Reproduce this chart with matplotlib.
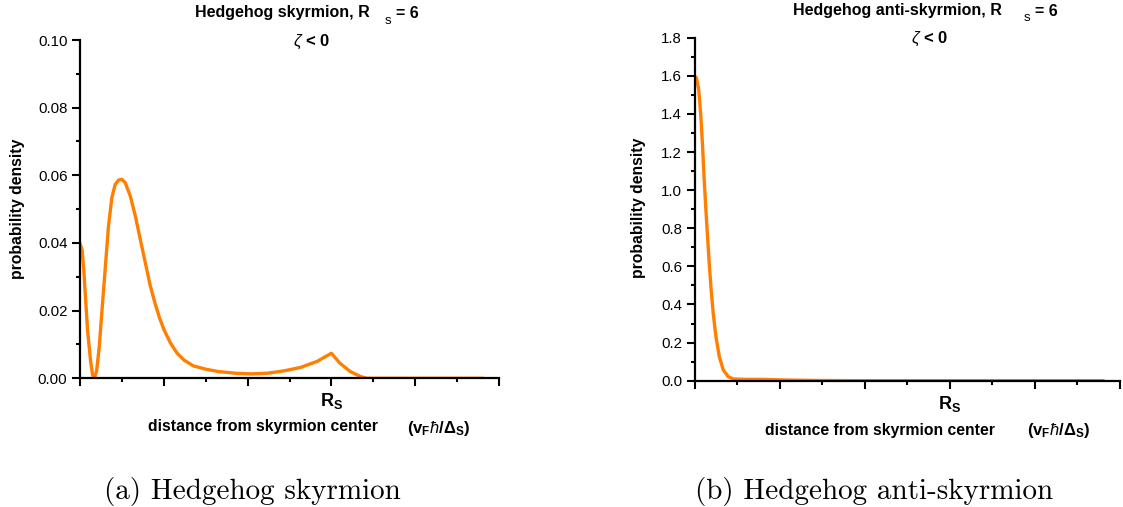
import matplotlib
matplotlib.use("Agg")
import matplotlib.pyplot as plt
from matplotlib.ticker import MultipleLocator, FixedLocator, FixedFormatter

plt.rcParams['font.family'] = ['Liberation Sans', 'DejaVu Sans']
plt.rcParams['mathtext.fontset'] = 'custom'
plt.rcParams['mathtext.rm'] = 'Liberation Sans'
plt.rcParams['mathtext.bf'] = 'Liberation Sans:bold'
plt.rcParams['mathtext.it'] = 'Liberation Sans:italic'

# ---------------- data ----------------
sk_x = [0, 0.05, 0.09, 0.13, 0.18, 0.25, 0.30, 0.35, 0.40, 0.46, 0.52, 0.60, 0.68,
        0.76, 0.84, 0.92, 1.0, 1.08, 1.2, 1.32, 1.44, 1.56, 1.67, 1.79, 1.9, 2.0,
        2.16, 2.32, 2.48, 2.7, 3.0, 3.3, 3.7, 4.07, 4.47, 4.87, 5.26, 5.66, 6.0,
        6.2, 6.45, 6.7, 6.85, 7.5, 8.5, 9.6]
sk_y = [0.0398, 0.038, 0.032, 0.0242, 0.0143, 0.0054, 0.001, 0.0, 0.0025, 0.0094,
        0.0193, 0.0321, 0.045, 0.0534, 0.0573, 0.0586, 0.0588, 0.0578, 0.0539,
        0.048, 0.041, 0.0341, 0.0277, 0.0222, 0.0178, 0.0145, 0.0104, 0.0074,
        0.0054, 0.0037, 0.0027, 0.002, 0.0015, 0.0013, 0.0015, 0.0022, 0.0032,
        0.005, 0.0074, 0.0045, 0.002, 0.0005, 0.0, 0.0, 0.0, 0.0]

ask_x = [0, 0.047, 0.10, 0.15, 0.19, 0.228, 0.268, 0.307, 0.346, 0.386, 0.44, 0.504,
         0.583, 0.677, 0.795, 0.913, 1.23, 1.62, 2.17, 3.0, 4.0, 6.0, 9.6]
ask_y = [1.6, 1.588, 1.527, 1.386, 1.229, 1.054, 0.896, 0.756, 0.616, 0.494, 0.354,
         0.231, 0.126, 0.056, 0.021, 0.009, 0.007, 0.007, 0.0035, 0.001, 0.0, 0.0, 0.0]

x_major = [0, 2, 4, 6, 8, 10]
x_labels = ['', '', '', r'$\mathbf{R_S}$', '', '']

ORANGE = '#FF7F00'
W, H = 1123, 507
fig = plt.figure(figsize=(W / 100, H / 100), dpi=100)

def px(x, y):
    return x / W, 1 - y / H

def make_axes(rect_px, xs, ys, ylim, ymaj, ymin, yfmt):
    x0, y0, x1, y1 = rect_px
    ax = fig.add_axes([x0 / W, 1 - y1 / H, (x1 - x0) / W, (y1 - y0) / H])
    ax.plot(xs, ys, color=ORANGE, lw=2.4, solid_joinstyle='round')
    ax.set_xlim(0, 10)
    ax.set_ylim(*ylim)
    for s in ['top', 'right']:
        ax.spines[s].set_visible(False)
    for s in ['left', 'bottom']:
        ax.spines[s].set_linewidth(1.6)
        ax.spines[s].set_clip_on(False)
    ax.xaxis.set_major_locator(FixedLocator(x_major))
    ax.xaxis.set_major_formatter(FixedFormatter(x_labels))
    ax.xaxis.set_minor_locator(MultipleLocator(1))
    ax.yaxis.set_major_locator(MultipleLocator(ymaj))
    ax.yaxis.set_minor_locator(MultipleLocator(ymin))
    ax.yaxis.set_major_formatter(plt.FormatStrFormatter(yfmt))
    ax.tick_params(which='major', length=5.5, width=1.5, direction='out', labelsize=10.8)
    ax.tick_params(which='minor', length=3, width=1.5, direction='out')
    ax.tick_params(axis='x', which='major', labelsize=13, pad=4)
    ax.patch.set_visible(False)
    return ax

ax1 = make_axes((80, 40, 499, 378.3), sk_x, sk_y, (0, 0.10), 0.02, 0.01, '%.2f')
ax2 = make_axes((694.5, 37.7, 1120, 380.7), ask_x, ask_y, (0, 1.8), 0.2, 0.1, '%.1f')

def t(x, y, s, **kw):
    kw.setdefault('ha', 'center')
    kw.setdefault('va', 'center')
    fig.text(*px(x, y), s, **kw)

TS = 11.5
# titles
t(195, 13, 'Hedgehog skyrmion, R', ha='left', fontsize=TS, fontweight='bold')
t(388, 21, 's', fontsize=9.5)
t(396, 13, '= 6', ha='left', fontsize=TS, fontweight='bold')
t(312, 42, r'$\zeta$ < 0', fontsize=12, fontweight='bold')

t(793, 11, 'Hedgehog anti-skyrmion, R', ha='left', fontsize=TS, fontweight='bold')
t(1027, 18, 's', fontsize=9.5)
t(1035, 11, '= 6', ha='left', fontsize=TS, fontweight='bold')
t(930, 39, r'$\zeta$ < 0', fontsize=12, fontweight='bold')

# y labels
t(18, 209, 'probability density', rotation=90, fontsize=11.3, fontweight='bold')
t(638, 208, 'probability density', rotation=90, fontsize=11.3, fontweight='bold')

# x labels
unit = r'$\mathbf{(v_F}\hbar\mathbf{/\Delta_S)}$'
t(263, 427, 'distance from skyrmion center', fontsize=11.3, fontweight='bold')
t(439, 428, unit, fontsize=12)
t(880, 430, 'distance from skyrmion center', fontsize=11.3, fontweight='bold')
t(1059, 431, unit, fontsize=12)

# captions
t(252, 491, '(a) Hedgehog skyrmion', fontsize=21, family=['cmr10', 'DejaVu Serif'])
t(874, 491, '(b) Hedgehog anti-skyrmion', fontsize=21, family=['cmr10', 'DejaVu Serif'])

fig.savefig('out.png', dpi=100)
